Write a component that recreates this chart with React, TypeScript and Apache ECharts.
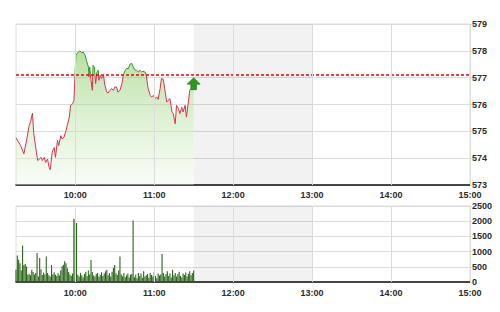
import React, { useEffect, useRef } from "react";
import * as echarts from "echarts";

// Intraday index price (morning session) and reference level
const priceTimes = [
  "09:15:00", "09:18:30", "09:21:00", "09:23:30", "09:25:00", "09:26:00", "09:27:30", "09:28:30",
  "09:30:30", "09:31:30", "09:34:00", "09:35:00", "09:36:30", "09:37:30", "09:39:00", "09:40:00",
  "09:41:00", "09:42:30", "09:44:00", "09:45:00", "09:46:30", "09:47:30", "09:49:00", "09:50:00",
  "09:51:30", "09:53:00", "09:54:00", "09:55:30", "09:56:30", "09:58:00", "09:59:00", "10:00:00",
  "10:00:30", "10:02:30", "10:03:30", "10:05:00", "10:06:00", "10:07:30", "10:08:30", "10:10:00",
  "10:10:30", "10:11:00", "10:12:00", "10:13:00", "10:13:30", "10:14:30", "10:15:30", "10:16:30",
  "10:17:30", "10:18:00", "10:19:00", "10:20:00", "10:21:30", "10:22:30", "10:24:00", "10:25:00",
  "10:26:30", "10:27:30", "10:29:00", "10:30:00", "10:31:30", "10:32:30", "10:34:00", "10:35:30",
  "10:36:30", "10:38:00", "10:39:00", "10:40:30", "10:41:30", "10:43:00", "10:44:00", "10:45:30",
  "10:46:30", "10:48:00", "10:49:00", "10:50:30", "10:51:30", "10:53:00", "10:54:00", "10:55:00",
  "10:55:30", "10:57:00", "10:58:00", "10:59:30", "11:00:30", "11:02:00", "11:03:00", "11:04:30",
  "11:05:30", "11:07:00", "11:08:00", "11:09:30", "11:10:30", "11:12:00", "11:13:30", "11:14:30",
  "11:16:00", "11:17:00", "11:18:30", "11:19:30", "11:21:00", "11:22:00", "11:23:30", "11:24:30",
  "11:26:00", "11:27:00", "11:28:30", "11:30:00",
];
const prices = [
  574.76, 574.47, 574.16, 574.78, 575.22, 575.34, 575.68, 574.91,
  574.22, 573.91, 574.03, 573.91, 574.03, 573.84, 573.97, 573.68,
  573.57, 574.22, 574.40, 574.03, 574.66, 574.47, 574.84, 574.72,
  574.78, 575.03, 575.22, 575.53, 575.97, 576.03, 576.15, 577.28,
  577.84, 577.96, 578.00, 577.93, 577.96, 577.84, 577.65, 577.40,
  577.03, 577.40, 576.90, 576.53, 577.46, 577.40, 576.78, 577.21,
  577.28, 576.90, 577.09, 576.97, 577.09, 576.72, 576.46, 576.43,
  576.53, 576.59, 576.53, 576.65, 576.65, 576.46, 576.53, 576.78,
  577.09, 577.28, 577.34, 577.34, 577.50, 577.53, 577.40, 577.28,
  577.28, 577.21, 577.28, 577.21, 577.24, 577.21, 577.09, 576.72,
  576.59, 576.34, 576.28, 576.34, 576.22, 576.28, 576.19, 576.59,
  576.97, 576.94, 576.59, 576.09, 576.15, 576.22, 575.72, 575.66,
  575.28, 575.97, 575.84, 575.66, 575.90, 575.72, 575.97, 575.53,
  576.09, 576.53, 576.59, 576.59,
];
const referencePrice = 577.1;

// Per-minute matched volume starting at 09:15
const volumeStart = "09:15";
const volumes = [
  400, 870, 730, 620, 380, 1200, 560, 590, 510, 240,
  260, 220, 400, 330, 250, 300, 950, 180, 790, 420,
  230, 310, 250, 840, 300, 220, 180, 560, 250, 320,
  240, 200, 290, 210, 380, 520, 570, 680, 620, 450,
  330, 250, 200, 280, 2080, 2050, 1940, 240, 180, 300,
  220, 150, 260, 340, 200, 380, 250, 720, 330, 210,
  180, 260, 300, 170, 240, 320, 200, 280, 350, 400,
  220, 300, 180, 340, 460, 560, 290, 230, 380, 840,
  250, 190, 300, 160, 220, 280, 150, 240, 260, 2020,
  160, 240, 120, 300, 200, 280, 140, 350, 180, 220,
  260, 150, 300, 230, 180, 330, 200, 120, 280, 210,
  250, 920, 300, 180, 260, 350, 200, 280, 150, 400,
  220, 300, 180, 260, 340, 200, 150, 280, 230, 310,
  180, 260, 350, 220, 300, 380,
];

// Session axis: 09:15 to 15:00, hourly labels, lunch break shaded
const sessionStart = "09:15";
const sessionEnd = "15:00";
const hourTicks = ["10:00", "11:00", "12:00", "13:00", "14:00", "15:00"];
const lunchBreak = ["11:30", "13:00"];
const priceTicks = { min: 573, max: 579, step: 1 };
const volumeTicks = { min: 0, max: 2500, step: 500 };

const toMinutes = (t: string) => {
  const [h, m, s] = t.split(":").map(Number);
  return h * 60 + m + (s || 0) / 60;
};
const fmtTime = (v: number) => {
  const h = Math.floor(v / 60);
  const m = Math.round(v - h * 60);
  return `${h}:${m < 10 ? "0" + m : m}`;
};

const FONT = "Liberation Sans";
const GRID_COLOR = "#dcdcdc";

export default function App() {
  const ref = useRef<HTMLDivElement>(null);

  useEffect(() => {
    if (!ref.current) return;
    const chart = echarts.init(ref.current, undefined, { renderer: "svg" });

    const xMin = toMinutes(sessionStart);
    const xMax = toMinutes(sessionEnd);
    const hourValues = hourTicks.map(toMinutes);

    const priceData = priceTimes.map((t, i) => [toMinutes(t), prices[i]]);
    const v0 = toMinutes(volumeStart);
    const volumeData = volumes.map((v, i) => [v0 + i, v]);
    const last = priceData[priceData.length - 1];

    const lunchArea = () => ({
      silent: true,
      itemStyle: { color: "rgba(0,0,0,0.05)" },
      data: [[{ xAxis: toMinutes(lunchBreak[0]) }, { xAxis: toMinutes(lunchBreak[1]) }]],
    });
    const hourLines = () => ({
      silent: true,
      symbol: "none",
      label: { show: false },
      lineStyle: { color: GRID_COLOR, type: "solid", width: 1 },
      data: hourValues.map((v) => ({ xAxis: v })),
    });

    const labelStyle = {
      fontFamily: FONT,
      fontSize: 9,
      fontWeight: "bold" as const,
      color: "#2a2a2a",
    };

    const xAxisBase = (gridIndex: number, margin: number) => ({
      type: "value" as const,
      gridIndex,
      min: xMin,
      max: xMax,
      interval: 15,
      axisLine: { show: true, lineStyle: { color: "#111", width: 1.5 } },
      axisTick: { show: false },
      splitLine: { show: false },
      axisLabel: {
        ...labelStyle,
        interval: 0,
        formatter: (v: number) => (hourValues.indexOf(v) >= 0 ? fmtTime(v) : ""),
        margin,
      },
    });

    const yAxisBase = (gridIndex: number, t: { min: number; max: number; step: number }) => ({
      type: "value" as const,
      gridIndex,
      position: "right" as const,
      min: t.min,
      max: t.max,
      interval: t.step,
      axisLine: { show: false },
      axisTick: { show: true, length: 2, lineStyle: { color: GRID_COLOR } },
      splitLine: { show: true, lineStyle: { color: GRID_COLOR, width: 1 } },
      axisLabel: {
        ...labelStyle,
        formatter: (v: number) => String(v),
        margin: 2,
      },
    });

    chart.setOption({
      animation: false,
      backgroundColor: "#fff",
      grid: [
        { left: 16, top: 24, width: 454, height: 161, show: true, borderColor: GRID_COLOR, borderWidth: 1 },
        { left: 16, top: 206, width: 454, height: 76, show: true, borderColor: GRID_COLOR, borderWidth: 1 },
      ],
      xAxis: [xAxisBase(0, 5), xAxisBase(1, 6)],
      yAxis: [yAxisBase(0, priceTicks), yAxisBase(1, volumeTicks)],
      visualMap: {
        type: "piecewise",
        show: false,
        seriesIndex: 0,
        dimension: 1,
        pieces: [
          { gt: priceTicks.min - 10, lte: referencePrice, color: "#d8344c" },
          { gt: referencePrice, lte: priceTicks.max + 10, color: "#3a962a" },
        ],
      },
      series: [
        {
          type: "line",
          xAxisIndex: 0,
          yAxisIndex: 0,
          data: priceData,
          showSymbol: false,
          symbol: "none",
          lineStyle: { width: 1 },
          areaStyle: {
            color: {
              type: "linear",
              x: 0,
              y: 0,
              x2: 0,
              y2: 1,
              colorStops: [
                { offset: 0, color: "rgba(130,200,92,0.82)" },
                { offset: 0.55, color: "rgba(186,226,165,0.62)" },
                { offset: 1, color: "rgba(236,246,230,0.5)" },
              ],
            },
          },
          markPoint: {
            silent: true,
            symbol: "path://M6,0L12,6L8.6,6L8.6,11L3.4,11L3.4,6L0,6Z",
            symbolSize: [13, 12],
            symbolOffset: [0, -5],
            label: { show: false },
            itemStyle: { color: "#2c9a1c", borderColor: "#1c6a10", borderWidth: 0.6 },
            data: [{ coord: last }],
          },
          z: 3,
        },
        {
          // backdrop for the price panel: lunch shading and hour lines
          type: "line",
          xAxisIndex: 0,
          yAxisIndex: 0,
          data: [],
          markArea: lunchArea(),
          markLine: hourLines(),
          z: 1,
        },
        {
          // reference (previous close) level across the session
          type: "line",
          xAxisIndex: 0,
          yAxisIndex: 0,
          data: [
            [xMin, referencePrice],
            [xMax, referencePrice],
          ],
          showSymbol: false,
          symbol: "none",
          silent: true,
          lineStyle: { color: "#f00000", type: [3, 2], width: 1.3 },
          z: 4,
        },
        {
          type: "bar",
          xAxisIndex: 1,
          yAxisIndex: 1,
          data: volumeData,
          barWidth: 1.1,
          itemStyle: { color: "#2a6519" },
          markArea: lunchArea(),
          markLine: hourLines(),
        },
      ],
    });

    return () => chart.dispose();
  }, []);

  return (
    <div
      ref={ref}
      style={{ position: "fixed", left: 0, top: 0, width: 500, height: 312 }}
    />
  );
}
